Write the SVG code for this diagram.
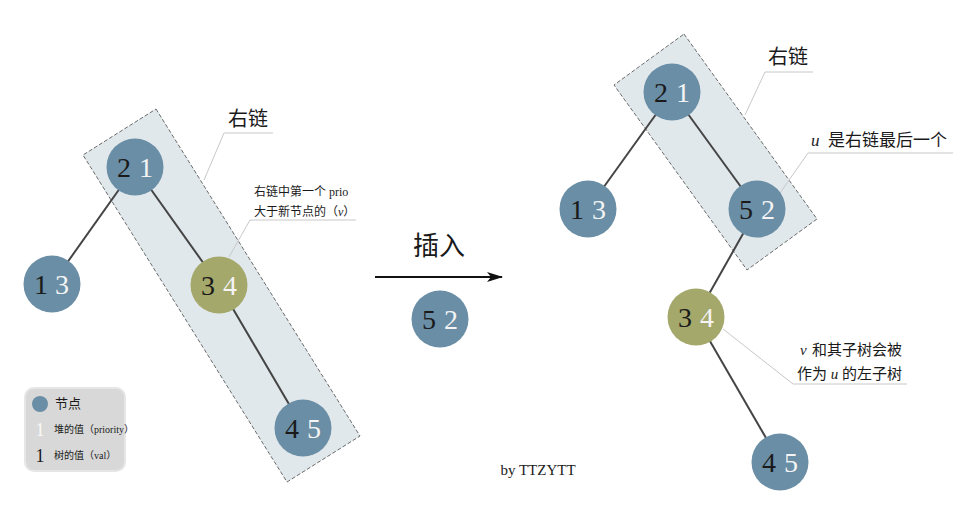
<svg xmlns="http://www.w3.org/2000/svg" width="973" height="522" viewBox="0 0 973 522">
<defs>
<style>
.chain{fill:#e0e8ec;stroke:#6b6b6b;stroke-width:1;stroke-dasharray:4,2}
.edge{stroke:#444;stroke-width:2;fill:none}
.lead{stroke:#c8c8c8;stroke-width:1;fill:none}
.nb{fill:#6a8ea5}
.no{fill:#a4a86a}
.num{font-family:"Liberation Serif","DejaVu Serif",serif;font-size:28px;text-anchor:middle}
.k{fill:#1a1a1a}
.w{fill:#f4f4f4}
.lbl{font-family:"Liberation Serif","Noto Sans CJK SC",serif;fill:#1a1a1a}
</style>
<marker id="arr" viewBox="0 0 16 10" refX="15" refY="5" markerWidth="16" markerHeight="10" markerUnits="userSpaceOnUse" orient="auto">
<path d="M0,0 L16,5 L0,10 L4,5 Z" fill="#111"/>
</marker>
</defs>
<rect width="973" height="522" fill="#fff"/>

<g id="chain-left"><polygon class="chain" points="156,109 360,436 287,482 83,155"/></g>
<g id="chain-right"><polygon class="chain" points="684,34 817,219 747,270 614,85"/></g>

<g id="connectors">
<line class="edge" x1="135" y1="167" x2="52" y2="284"/>
<line class="edge" x1="135" y1="167" x2="219" y2="285"/>
<line class="edge" x1="219" y1="285" x2="303" y2="428"/>
<line class="edge" x1="672" y1="92" x2="588" y2="209"/>
<line class="edge" x1="672" y1="92" x2="757" y2="209"/>
<line class="edge" x1="757" y1="209" x2="696" y2="317"/>
<line class="edge" x1="696" y1="317" x2="780" y2="462"/>
<line x1="375" y1="277" x2="502" y2="277" stroke="#111" stroke-width="2" marker-end="url(#arr)"/>
<polyline class="lead" points="204,180 224,133 273,133"/>
<polyline class="lead" points="229,257 250,220 356,220"/>
<polyline class="lead" points="745,115 765,72 813,72"/>
<polyline class="lead" points="780,193 808,153 953,153"/>
<polyline class="lead" points="723,329 793,384 907,384"/>
</g>

<g id="L21"><circle class="nb" cx="135" cy="167" r="28.5"/><text class="num" y="177"><tspan class="k" x="124">2</tspan><tspan class="w" x="146">1</tspan></text></g>
<g id="L13"><circle class="nb" cx="52" cy="284" r="28.5"/><text class="num" y="294"><tspan class="k" x="41">1</tspan><tspan class="w" x="62">3</tspan></text></g>
<g id="L34"><circle class="no" cx="219" cy="285" r="28.5"/><text class="num" y="295"><tspan class="k" x="208">3</tspan><tspan class="w" x="230">4</tspan></text></g>
<g id="L45"><circle class="nb" cx="303" cy="428" r="28.5"/><text class="num" y="438"><tspan class="k" x="292">4</tspan><tspan class="w" x="314">5</tspan></text></g>

<g id="M52"><circle class="nb" cx="440" cy="319" r="28.5"/><text class="num" y="329"><tspan class="k" x="429">5</tspan><tspan class="w" x="451">2</tspan></text></g>

<g id="R21"><circle class="nb" cx="672" cy="92" r="28.5"/><text class="num" y="102"><tspan class="k" x="661">2</tspan><tspan class="w" x="683">1</tspan></text></g>
<g id="R13"><circle class="nb" cx="588" cy="209" r="28.5"/><text class="num" y="219"><tspan class="k" x="577">1</tspan><tspan class="w" x="599">3</tspan></text></g>
<g id="R52"><circle class="nb" cx="757" cy="209" r="28.5"/><text class="num" y="219"><tspan class="k" x="746">5</tspan><tspan class="w" x="768">2</tspan></text></g>
<g id="R34"><circle class="no" cx="696" cy="317" r="28.5"/><text class="num" y="327"><tspan class="k" x="685">3</tspan><tspan class="w" x="707">4</tspan></text></g>
<g id="R45"><circle class="nb" cx="780" cy="462" r="28.5"/><text class="num" y="472"><tspan class="k" x="769">4</tspan><tspan class="w" x="791">5</tspan></text></g>

<g id="labels">
<text class="lbl" x="228" y="126" font-size="20">右链</text>
<text class="lbl" x="254" y="196" font-size="12">右链中第一个 prio</text>
<text class="lbl" x="254" y="216" font-size="12">大于新节点的（<tspan font-style="italic">v</tspan>）</text>
<text class="lbl" x="439" y="255" font-size="26" text-anchor="middle">插入</text>
<text class="lbl" x="538" y="475" font-size="15" text-anchor="middle">by TTZYTT</text>
<text class="lbl" x="768" y="64" font-size="20">右链</text>
<text class="lbl" x="811" y="146" font-size="17"><tspan font-style="italic">u</tspan><tspan x="828">是右链最后一个</tspan></text>
<text class="lbl" x="800" y="355" font-size="15"><tspan font-style="italic">v</tspan><tspan x="812">和其子树会被</tspan></text>
<text class="lbl" x="797" y="379" font-size="15">作为 <tspan font-style="italic">u</tspan> 的左子树</text>
</g>

<g id="legend">
<rect x="25" y="388" width="100" height="83" rx="9" fill="#d8d8d8" stroke="#e6e6e6" stroke-width="2"/>
<circle cx="40" cy="404" r="8" fill="#6a8ea5"/>
<text class="lbl" x="55" y="408" font-size="13">节点</text>
<text x="40" y="436" font-size="18" fill="#f8f8f8" font-family="Liberation Serif,serif" text-anchor="middle">1</text>
<text class="lbl" x="54" y="433" font-size="10">堆的值（priority）</text>
<text x="40" y="462" font-size="18" fill="#1a1a1a" font-family="Liberation Serif,serif" text-anchor="middle">1</text>
<text class="lbl" x="54" y="459" font-size="10">树的值（val）</text>
</g>
</svg>
